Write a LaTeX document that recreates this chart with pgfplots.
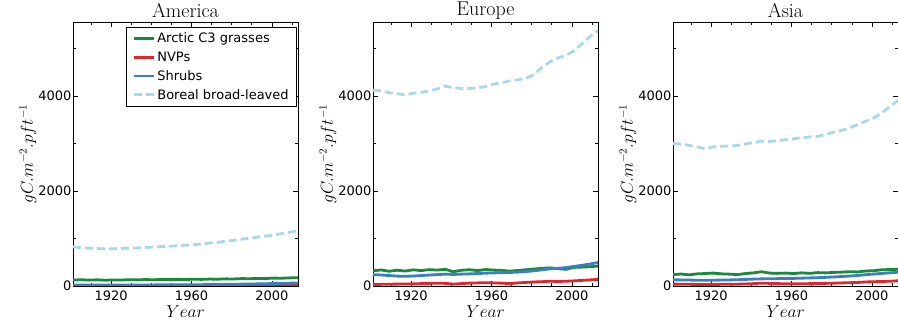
\documentclass[border=0pt]{standalone}
\usepackage{fontspec}
\usepackage{pgfplots}
\usepackage{pgfplotstable}
\pgfplotsset{compat=1.18}
\newfontfamily\dejavu{DejaVu Sans}
\definecolor{cgreen}{RGB}{26,138,58}
\definecolor{cred}{RGB}{224,38,43}
\definecolor{cblue}{RGB}{58,127,192}
\definecolor{clight}{RGB}{168,216,234}

\pgfplotstableread{
year grass nvp shrub boreal
1901 125 2 22 825
1905 132 2 22 808
1909 124 2 21 795
1913 130 2 21 788
1917 122 2 20 782
1921 128 2 20 785
1925 126 2 21 790
1929 133 2 22 795
1933 129 2 22 802
1937 136 2 23 810
1941 131 2 23 820
1945 138 3 24 830
1949 134 3 24 838
1953 140 3 25 848
1957 136 3 26 858
1961 143 4 27 868
1965 139 4 28 885
1969 146 5 30 905
1973 143 5 32 920
1977 150 6 34 942
1981 148 7 36 962
1985 156 8 39 985
1989 153 9 42 1005
1993 160 10 45 1030
1997 158 12 48 1050
2001 166 14 52 1075
2005 164 16 56 1105
2009 171 18 60 1135
2013 176 20 65 1165
}\america

\pgfplotstableread{
year grass nvp shrub boreal
1901 320 30 240 4125
1905 338 35 232 4110
1909 310 38 220 4070
1913 332 40 208 4050
1917 315 42 205 4025
1921 340 45 210 4060
1925 325 50 220 4080
1929 345 55 230 4110
1933 335 60 240 4150
1937 352 55 250 4210
1941 300 40 242 4175
1945 332 50 250 4160
1949 342 60 255 4160
1953 325 65 262 4170
1957 347 70 270 4200
1961 335 65 275 4250
1965 330 60 280 4280
1969 312 50 285 4320
1973 326 65 292 4340
1977 342 75 302 4370
1981 356 85 320 4450
1985 372 90 340 4600
1989 382 100 360 4720
1993 366 95 372 4800
1997 352 100 388 4860
2001 392 108 412 4950
2005 398 118 435 5100
2009 405 128 462 5250
2013 420 140 495 5380
}\europe

\pgfplotstableread{
year grass nvp shrub boreal
1901 240 40 130 3000
1905 252 38 128 2990
1909 235 35 125 2960
1913 256 33 122 2930
1917 262 32 120 2890
1921 272 33 122 2930
1925 256 35 125 2940
1929 250 36 128 2950
1933 240 38 132 2960
1937 262 42 138 2990
1941 276 50 145 3020
1945 300 60 150 3050
1949 272 55 152 3040
1953 266 50 155 3060
1957 272 48 158 3080
1961 262 45 160 3100
1965 277 47 165 3120
1969 266 50 170 3140
1973 282 52 175 3150
1977 276 55 182 3190
1981 286 60 190 3240
1985 292 65 200 3280
1989 302 70 210 3330
1993 296 75 222 3400
1997 316 85 238 3470
2001 322 90 252 3540
2005 342 95 265 3650
2009 346 100 278 3780
2013 352 110 290 3910
}\asia

\pgfplotsset{
  common/.style={
    width=225pt, height=264pt, scale only axis,
    anchor=south west,
    xmin=1901, xmax=2013, ymin=0, ymax=5560,
    xtick={1920,1960,2000},
    minor xtick={1910,1930,1940,1950,1970,1980,1990,2010},
    ytick={0,2000,4000},
    minor ytick={1000,3000,5000},
    tick align=inside, tick pos=both,
    major tick length=5pt, minor tick length=3pt,
    axis line style={line width=0.8pt, black},
    every tick/.style={black, line width=0.6pt},
    /pgf/number format/assume math mode=true,
    /pgf/number format/1000 sep={},
    tick label style={font=\dejavu\fontsize{13}{13}\selectfont},
    xticklabel style={yshift=-1pt},
    yticklabel style={xshift=2pt},
    xlabel={$Year$}, ylabel={$gC.m^{-2}.pft^{-1}$},
    every axis x label/.style={at={(rel axis cs:0.5,0)}, yshift=-26pt, anchor=center, font=\fontsize{16}{16}\selectfont},
    every axis y label/.style={at={(rel axis cs:0,0.5)}, xshift=-45pt, rotate=90, anchor=center, font=\fontsize{16}{16}\selectfont},
    every axis title/.style={at={(rel axis cs:0.5,1)}, yshift=11pt, anchor=center, font=\fontsize{20}{20}\selectfont},
    legend image code/.code={\draw[##1] (0pt,0pt) -- (20pt,0pt);},
  },
  gline/.style={draw=cgreen, line width=2.8pt},
  rline/.style={draw=cred, line width=2.8pt},
  bline/.style={draw=cblue, line width=2.8pt},
  lline/.style={draw=clight, line width=2.8pt, dash pattern=on 8pt off 4pt},
}

\begin{document}
\begin{tikzpicture}
\useasboundingbox (0,0) rectangle (898pt,326pt);
\begin{axis}[common, at={(73pt,40pt)}, title={America},
  legend style={at={(rel axis cs:0.995,0.982)}, anchor=north east,
    draw=black, fill=white,
    font=\dejavu\fontsize{13}{14}\selectfont,
    inner xsep=6pt, inner ysep=4pt, row sep=3.5pt},
  legend cell align=left]
\addplot[gline] table[x=year,y=grass] {\america};
\addlegendentry{Arctic C3 grasses}
\addplot[rline] table[x=year,y=nvp] {\america};
\addlegendentry{NVPs}
\addplot[bline] table[x=year,y=shrub] {\america};
\addlegendentry{Shrubs}
\addplot[lline] table[x=year,y=boreal] {\america};
\addlegendentry{Boreal broad-leaved}
\end{axis}
\begin{axis}[common, at={(373pt,40pt)}, title={Europe}]
\addplot[gline] table[x=year,y=grass] {\europe};
\addplot[rline] table[x=year,y=nvp] {\europe};
\addplot[bline] table[x=year,y=shrub] {\europe};
\addplot[lline] table[x=year,y=boreal] {\europe};
\end{axis}
\begin{axis}[common, at={(673pt,40pt)}, title={Asia}]
\addplot[gline] table[x=year,y=grass] {\asia};
\addplot[rline] table[x=year,y=nvp] {\asia};
\addplot[bline] table[x=year,y=shrub] {\asia};
\addplot[lline] table[x=year,y=boreal] {\asia};
\end{axis}
\end{tikzpicture}
\end{document}
